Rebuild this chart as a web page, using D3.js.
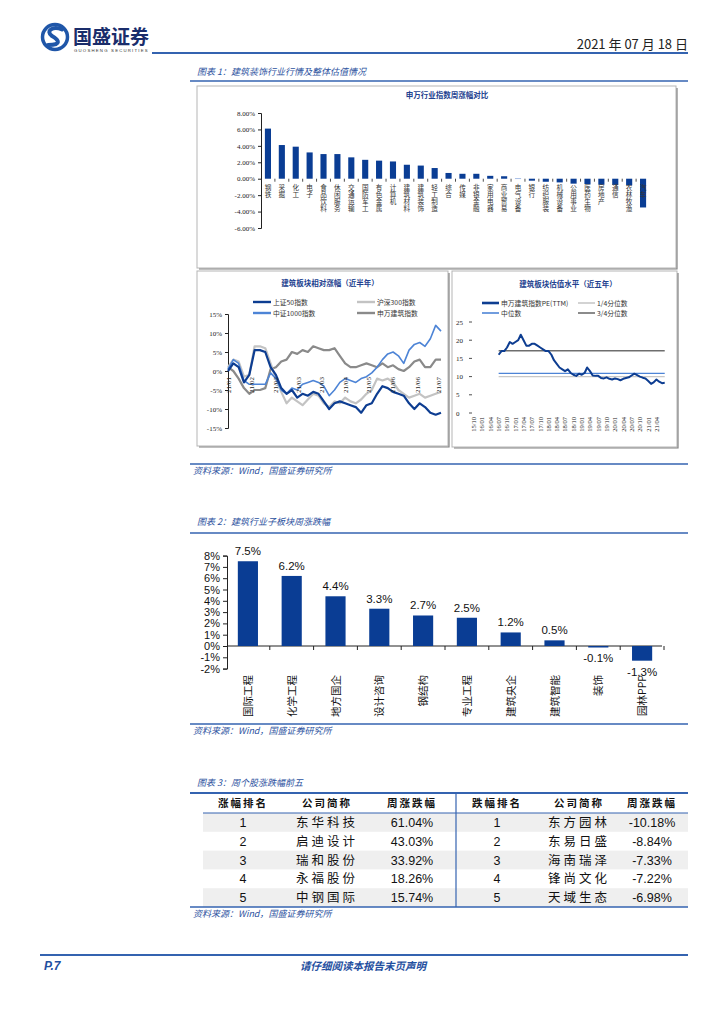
<!DOCTYPE html>
<html><head><meta charset="utf-8">
<script src="https://cdn.jsdelivr.net/npm/d3@7"></script>
<style>body{margin:0;background:#fff} svg{display:block} .vt{writing-mode:vertical-rl;text-orientation:upright}</style>
</head><body>
<svg id="page" width="724" height="1024"></svg>
<script>
// ---------- DATA ----------
const industries = ["钢铁","采掘","化工","电子","食品饮料","休闲服务","交通运输","国防军工","有色金属","计算机","建筑材料","建筑装饰","轻工制造","综合","传媒","非银金融","家用电器","商业贸易","电气设备","银行","纺织服装","机械设备","公用事业","医药生物","房地产","通信","农林牧渔","汽车"];
const industryChange = [6.1,4.1,3.9,3.2,3.0,3.0,2.6,2.3,2.2,2.1,1.7,1.6,1.3,0.7,0.6,0.6,0.35,0.3,0.08,-0.24,-0.37,-0.45,-0.6,-0.65,-0.73,-0.75,-0.78,-3.5];
const industryTicks = [8,6,4,2,0,-2,-4,-6];

const relSeriesNames = ["上证50指数","沪深300指数","中证1000指数","申万建筑指数"];
const relSZ50   = [0,2,1,-3,-1,5.5,5.5,5,1,-1,-4.5,-6,-5,-7,-6,-6.5,-5.5,-6,-8,-10,-8.5,-8,-8.5,-9,-9.5,-11,-9,-8.5,-6,-4,-4.5,-5.5,-6,-6.5,-8.5,-10,-8.5,-9.5,-11,-11.5,-11];
const relHS300  = [1,3,2.5,-1.5,-1,6.5,6.5,6,2,-2,-5.5,-8.5,-7,-8,-9,-7.5,-6,-6.5,-8.5,-9.5,-8,-8.5,-7,-8,-8.5,-7.5,-6,-5,-2,-2.5,-2,-3,-5,-6,-7,-6.5,-6,-7,-6.5,-6,-5.5];
const relZZ1000 = [0.5,3,2,-2.5,-3.5,-3.5,-3.5,-3.5,-0.5,-2,-5,-6,-4.5,-5,-3.5,-3,-2.5,-3,-4,-6.5,-5,-3,-2,-2.5,-3,-2,-1.5,-0.5,1,3,4.5,5,4,2,5.5,7,7.5,6.5,8.5,12,10.5];
const relSWJZ   = [1,0,-2,-4.5,-6,-5,-5,-4.5,0.5,1,2.5,3,5,4.5,5.5,5,6.5,6,5.5,5.5,6,4,2,1,1,1.5,2,1.5,1,2,1,1.5,0.5,0,1,2.5,3,1,1,3,3];
const relTickPos = [0,4.4,8.9,13.3,17.6,22,26.4,30.8,35.6,39.5];
const relTickLabels = ["21/01","21/02","21/02","21/03","21/03","21/04","21/05","21/06","21/06","21/07"];
const relYTicks = [15,10,5,0,-5,-10,-15];

const peSeriesNames = ["申万建筑指数PE(TTM)","1/4分位数","中位数","3/4分位数"];
const peStart = "2016-07";
const peValues = [16,17,17,18,19.5,19,19.5,20,21.5,20,18.5,18.5,19,19,18.5,18,17.5,17,17,16,14.5,13.5,12.5,12,11.5,12,11,10.5,10.2,10.8,10.5,11,12.5,11.5,10.3,10.2,10.2,9.6,9.5,9.8,9.4,9.2,9.5,9.3,9.0,9.4,9.6,9.8,10.3,10.8,10.4,10.0,9.7,9.5,8.8,8.0,8.4,9.2,8.6,8.2,8.3];
const peQ1 = 10.0, peMedian = 10.9, peQ3 = 17.1;
const peYTicks = [25,20,15,10,5,0];

const subSectors = ["国际工程","化学工程","地方国企","设计咨询","钢结构","专业工程","建筑央企","建筑智能","装饰","园林PPP"];
const subChange = [7.5,6.2,4.4,3.3,2.7,2.5,1.2,0.5,-0.1,-1.3];
const subTicks = [8,7,6,5,4,3,2,1,0,-1,-2];

const tableHeaders = ["涨幅排名","公司简称","周涨跌幅","跌幅排名","公司简称","周涨跌幅"];
const gainRanks = [1,2,3,4,5];
const gainNames = ["东华科技","启迪设计","瑞和股份","永福股份","中钢国际"];
const gainPct = ["61.04%","43.03%","33.92%","18.26%","15.74%"];
const lossNames = ["东方园林","东易日盛","海南瑞泽","锋尚文化","天域生态"];
const lossPct = ["-10.18%","-8.84%","-7.33%","-7.22%","-6.98%"];

// ---------- STYLE ----------
const LINE_BLUE = "#3463b0", TXT_BLUE = "#2c52a0", BAR = "#0a3d94";
const CJK = "'Noto Sans CJK SC', sans-serif", SERIF = "'Liberation Serif', serif", SANS = "'Liberation Sans', Arial, sans-serif";
const svg = d3.select("#page");

// ---------- HEADER ----------
const logo = svg.append("g");
logo.append("circle").attr("cx",55).attr("cy",37).attr("r",12.5).attr("fill","none").attr("stroke","#1f56a8").attr("stroke-width",3.5);
logo.append("path").attr("d","M62,29.5 C53,25.5 45,31 52,36 C59,40 62,45 48,45").attr("fill","none").attr("stroke","#1f56a8").attr("stroke-width",4).attr("stroke-linecap","round");
svg.append("text").attr("x",73).attr("y",44).text("国盛证券").attr("font-family",CJK).attr("font-weight","bold").attr("font-size",19).attr("fill","#1a2d6b");
svg.append("text").attr("x",74).attr("y",51.5).text("GUOSHENG SECURITIES").attr("font-family",SANS).attr("font-size",4.3).attr("letter-spacing",1.2).attr("fill","#333");
svg.append("text").attr("x",688).attr("y",49).attr("text-anchor","end").text("2021 年 07 月 18 日").attr("font-family",CJK).attr("font-size",13).attr("fill","#222");
svg.append("line").attr("x1",152).attr("x2",688).attr("y1",53).attr("y2",53).attr("stroke",LINE_BLUE).attr("stroke-width",2);

function figTitle(y, txt){
  svg.append("text").attr("x",197).attr("y",y).text(txt).attr("font-family",CJK).attr("font-style","italic").attr("font-size",9).attr("fill",TXT_BLUE);
}
function blueLine(y, w){
  svg.append("line").attr("x1",190).attr("x2",688).attr("y1",y).attr("y2",y).attr("stroke",LINE_BLUE).attr("stroke-width",w||1.6);
}
function source(y){
  svg.append("text").attr("x",193).attr("y",y).text("资料来源：Wind，国盛证券研究所").attr("font-family",CJK).attr("font-style","italic").attr("font-size",9).attr("fill",TXT_BLUE);
}

figTitle(75, "图表 1：建筑装饰行业行情及整体估值情况");
blueLine(81);

function panel(x,y,w,h){
  svg.append("rect").attr("x",x).attr("y",y).attr("width",w).attr("height",h).attr("fill","#fff").attr("stroke","#b5b5b5").attr("stroke-width",1);
  svg.append("path").attr("d",`M${x+w+1},${y+2} V${y+h+1} H${x+2}`).attr("fill","none").attr("stroke","#808080").attr("stroke-width",1.2);
}
panel(197,86,479,182);
panel(197,271,251,175);
panel(452,271,225,176);

// ---------- CHART 1: industries ----------
{
  const g = svg.append("g");
  g.append("text").attr("x",447).attr("y",98).attr("text-anchor","middle").text("申万行业指数周涨幅对比").attr("font-family",CJK).attr("font-weight","bold").attr("font-size",7.5).attr("fill","#22418f");
  const x = d3.scaleBand().domain(industries).range([261,650]).paddingInner(0.56).paddingOuter(0.28);
  const y = d3.scaleLinear().domain([-6,8]).range([228,113]);
  const ax = g.append("g").attr("transform","translate(261,0)").call(d3.axisLeft(y).tickValues(industryTicks).tickSize(3).tickFormat(d=>d.toFixed(2)+"%"));
  ax.selectAll("text").attr("font-family",SERIF).attr("font-size",7).attr("fill","#222");
  ax.select(".domain").attr("stroke","#222");
  ax.selectAll(".tick line").attr("stroke","#222");
  const step = x.step();
  g.selectAll(".ct").data(industries.slice(1)).join("line")
    .attr("x1",d=>x(d)-x.paddingInner()*step/2).attr("x2",d=>x(d)-x.paddingInner()*step/2)
    .attr("y1",y(0)).attr("y2",y(0)+3).attr("stroke","#222").attr("stroke-width",0.8);
  g.selectAll(".bar").data(industries).join("rect")
    .attr("x",d=>x(d)).attr("width",x.bandwidth())
    .attr("y",(d,i)=>y(Math.max(0,industryChange[i])))
    .attr("height",(d,i)=>Math.max(1,Math.abs(y(industryChange[i])-y(0))))
    .attr("fill",(d,i)=> d==="电气设备" ? "#a9bfe6" : BAR);
  g.selectAll(".il").data(industries).join("text")
    .attr("class","vt")
    .attr("x",d=>x(d)+x.bandwidth()/2).attr("y",y(0)+5)
    .text(d=>d).attr("font-family",CJK).attr("font-size",6.6).attr("letter-spacing",0.5)
    .attr("fill","#333");
}

// ---------- CHART: relative performance ----------
{
  const g = svg.append("g");
  g.append("text").attr("x",330).attr("y",286).attr("text-anchor","middle").text("建筑板块相对涨幅（近半年）").attr("font-family",CJK).attr("font-weight","bold").attr("font-size",7.5).attr("fill","#22418f");
  const colors = ["#0d3d91","#c3c3c3","#4d84d6","#8a8a8a"];
  const widths = [2.2,2.2,1.6,2.2];
  const legendPos = [[253,302],[357,302],[253,313],[357,313]];
  relSeriesNames.forEach((n,i)=>{
    const [lx,ly] = legendPos[i];
    g.append("line").attr("x1",lx).attr("x2",lx+18).attr("y1",ly).attr("y2",ly).attr("stroke",colors[i]).attr("stroke-width",2.4);
    g.append("text").attr("x",lx+20).attr("y",ly+2.5).text(n).attr("font-family",CJK).attr("font-size",6.8).attr("fill","#333");
  });
  const x = d3.scaleLinear().domain([0,relSZ50.length-1]).range([228,441]);
  const y = d3.scaleLinear().domain([-15,15]).range([428,314]);
  const ax = g.append("g").attr("transform","translate(228,0)").call(d3.axisLeft(y).tickValues(relYTicks).tickSize(3).tickFormat(d=>d+"%"));
  ax.selectAll("text").attr("font-family",SERIF).attr("font-size",7).attr("fill","#222");
  ax.select(".domain").attr("stroke","#222");
  ax.selectAll(".tick line").attr("stroke","#222");
  const line = d3.line().x((d,i)=>x(i)).y(d=>y(d));
  const all = [relSZ50,relHS300,relZZ1000,relSWJZ];
  [3,1,2,0].forEach(idx=>{
    g.append("path").datum(all[idx]).attr("d",line).attr("fill","none").attr("stroke",colors[idx]).attr("stroke-width",widths[idx]).attr("stroke-linejoin","round");
  });
  relTickPos.forEach((p,i)=>{
    g.append("text").attr("transform",`translate(${x(p)+2.5},${y(0)+6}) rotate(-90)`).attr("text-anchor","end").text(relTickLabels[i]).attr("font-family",SERIF).attr("font-size",7).attr("fill","#222");
  });
}

// ---------- CHART: PE ----------
{
  const g = svg.append("g");
  g.append("text").attr("x",568).attr("y",287).attr("text-anchor","middle").text("建筑板块估值水平（近五年）").attr("font-family",CJK).attr("font-weight","bold").attr("font-size",7.5).attr("fill","#22418f");
  const colors = ["#0d3d91","#c8c8c8","#4d84d6","#6e6e6e"];
  const legendPos = [[482,303],[578,303],[482,313],[578,313]];
  peSeriesNames.forEach((n,i)=>{
    const [lx,ly] = legendPos[i];
    g.append("line").attr("x1",lx).attr("x2",lx+17).attr("y1",ly).attr("y2",ly).attr("stroke",colors[i]).attr("stroke-width",i===0?2.6:1.6);
    g.append("text").attr("x",lx+19).attr("y",ly+2.5).text(n).attr("font-family",CJK).attr("font-size",6.8).attr("fill","#333");
  });
  const parse = d3.timeParse("%Y-%m");
  const start = parse(peStart);
  const dates = peValues.map((v,i)=>d3.timeMonth.offset(start,i));
  const x = d3.scaleTime().domain([parse("2015-09"),parse("2021-06")]).range([471,662]);
  const y = d3.scaleLinear().domain([0,25]).range([413,322]);
  peYTicks.forEach(t=>{
    g.append("text").attr("x",456).attr("y",y(t)+2.5).text(t).attr("font-family",SERIF).attr("font-size",7).attr("fill","#222");
    g.append("line").attr("x1",469).attr("x2",472).attr("y1",y(t)).attr("y2",y(t)).attr("stroke","#222").attr("stroke-width",0.8);
  });
  const xt = d3.timeMonth.every(3).range(parse("2015-09"), parse("2021-07"));
  xt.forEach(d=>{
    g.append("text").attr("transform",`translate(${x(d)+2.3},${y(0)+4}) rotate(-90)`).attr("text-anchor","end").text(d3.timeFormat("%y/%m")(d)).attr("font-family",SERIF).attr("font-size",6.5).attr("fill","#222");
  });
  const x0 = x(dates[0]), x1 = x(dates[dates.length-1]);
  [[peQ3,colors[3]],[peMedian,colors[2]],[peQ1,colors[1]]].forEach(([v,c])=>{
    g.append("line").attr("x1",x0).attr("x2",x1).attr("y1",y(v)).attr("y2",y(v)).attr("stroke",c).attr("stroke-width",1.3);
  });
  g.append("path").datum(peValues).attr("d",d3.line().x((d,i)=>x(dates[i])).y(d=>y(d))).attr("fill","none").attr("stroke",colors[0]).attr("stroke-width",2).attr("stroke-linejoin","round");
}

blueLine(464,1.4);
source(474);

// ---------- CHART 2 ----------
figTitle(525, "图表 2：建筑行业子板块周涨跌幅");
blueLine(533,1.4);
{
  const g = svg.append("g");
  const x = d3.scaleBand().domain(subSectors).range([226,664]).paddingInner(0.54).paddingOuter(0.27);
  const y = d3.scaleLinear().domain([-2,8]).range([668.6,555.6]);
  const ax = g.append("g").attr("transform","translate(227,0)").call(d3.axisLeft(y).tickValues(subTicks).tickSize(4).tickFormat(d=>d+"%"));
  ax.selectAll("text").attr("font-family",SANS).attr("font-size",11).attr("fill","#111").attr("x",-7);
  ax.select(".domain").attr("stroke","#222");
  ax.selectAll(".tick line").attr("stroke","#222");
  g.append("line").attr("x1",227).attr("x2",662).attr("y1",y(0)).attr("y2",y(0)).attr("stroke","#222");
  const step = x.step();
  g.selectAll(".ct").data(subSectors).join("line")
    .attr("x1",(d,i)=> x(d) + x.bandwidth() + x.paddingInner()*step/2)
    .attr("x2",(d,i)=> x(d) + x.bandwidth() + x.paddingInner()*step/2)
    .attr("y1",y(0)).attr("y2",y(0)+4).attr("stroke","#222");
  g.selectAll(".bar").data(subSectors).join("rect")
    .attr("x",d=>x(d)).attr("width",x.bandwidth())
    .attr("y",(d,i)=>y(Math.max(0,subChange[i])))
    .attr("height",(d,i)=>Math.max(1.5,Math.abs(y(subChange[i])-y(0))))
    .attr("fill",BAR);
  g.selectAll(".cl").data(subSectors).join("text")
    .attr("transform",d=>`translate(${x(d)+x.bandwidth()/2+4},675) rotate(-90)`)
    .attr("text-anchor","end").text(d=>d)
    .attr("font-family",CJK).attr("font-size",10.5).attr("fill","#111");
  g.selectAll(".vl").data(subSectors).join("text")
    .attr("x",d=>x(d)+x.bandwidth()/2)
    .attr("y",(d,i)=> subChange[i]>=0 ? y(subChange[i])-6 : y(subChange[i])+15)
    .attr("text-anchor","middle").text((d,i)=>subChange[i].toFixed(1)+"%")
    .attr("font-family",SANS).attr("font-size",11.5).attr("fill","#111");
}
blueLine(724,1.4);
source(734);

// ---------- TABLE ----------
figTitle(786, "图表 3：周个股涨跌幅前五");
{
  const g = svg.append("g");
  const colX = [243,327,412,497,579,652];
  const rowTop = 813, rowH = 18.8;
  gainRanks.forEach((r,i)=>{
    if(i%2===0) g.append("rect").attr("x",203).attr("y",rowTop+i*rowH).attr("width",485).attr("height",rowH).attr("fill","#efefef");
  });
  g.append("line").attr("x1",190).attr("x2",688).attr("y1",793).attr("y2",793).attr("stroke",LINE_BLUE).attr("stroke-width",1.8);
  g.append("line").attr("x1",203).attr("x2",688).attr("y1",rowTop).attr("y2",rowTop).attr("stroke",LINE_BLUE).attr("stroke-width",1);
  g.append("line").attr("x1",190).attr("x2",688).attr("y1",907).attr("y2",907).attr("stroke",LINE_BLUE).attr("stroke-width",1.6);
  g.append("line").attr("x1",456).attr("x2",456).attr("y1",793).attr("y2",907).attr("stroke",LINE_BLUE).attr("stroke-width",1.2);
  tableHeaders.forEach((h,j)=>{
    g.append("text").attr("x",colX[j]).attr("y",807).attr("text-anchor","middle").text(h).attr("font-family",CJK).attr("font-weight","bold").attr("font-size",10.5).attr("letter-spacing",2).attr("fill","#111");
  });
  gainRanks.forEach((r,i)=>{
    const cy = rowTop + i*rowH + rowH/2 + 4.5;
    const cells = [[String(r),SANS,0],[gainNames[i],CJK,3],[gainPct[i],SANS,0],[String(r),SANS,0],[lossNames[i],CJK,3],[lossPct[i],SANS,0]];
    cells.forEach(([t,f,ls],j)=>{
      g.append("text").attr("x",colX[j]).attr("y",cy).attr("text-anchor","middle").text(t).attr("font-family",f).attr("font-size",12.5).attr("letter-spacing",ls).attr("fill","#111");
    });
  });
}
source(917);

// ---------- FOOTER ----------
svg.append("line").attr("x1",40).attr("x2",688).attr("y1",955).attr("y2",955).attr("stroke",LINE_BLUE).attr("stroke-width",2);
svg.append("text").attr("x",44).attr("y",970).text("P.7").attr("font-family",SANS).attr("font-weight","bold").attr("font-style","italic").attr("font-size",12).attr("fill","#1f4fa0");
svg.append("text").attr("x",363).attr("y",970).attr("text-anchor","middle").text("请仔细阅读本报告末页声明").attr("font-family",CJK).attr("font-weight","bold").attr("font-style","italic").attr("font-size",10.5).attr("fill","#1f4fa0");
</script>
</body></html>
